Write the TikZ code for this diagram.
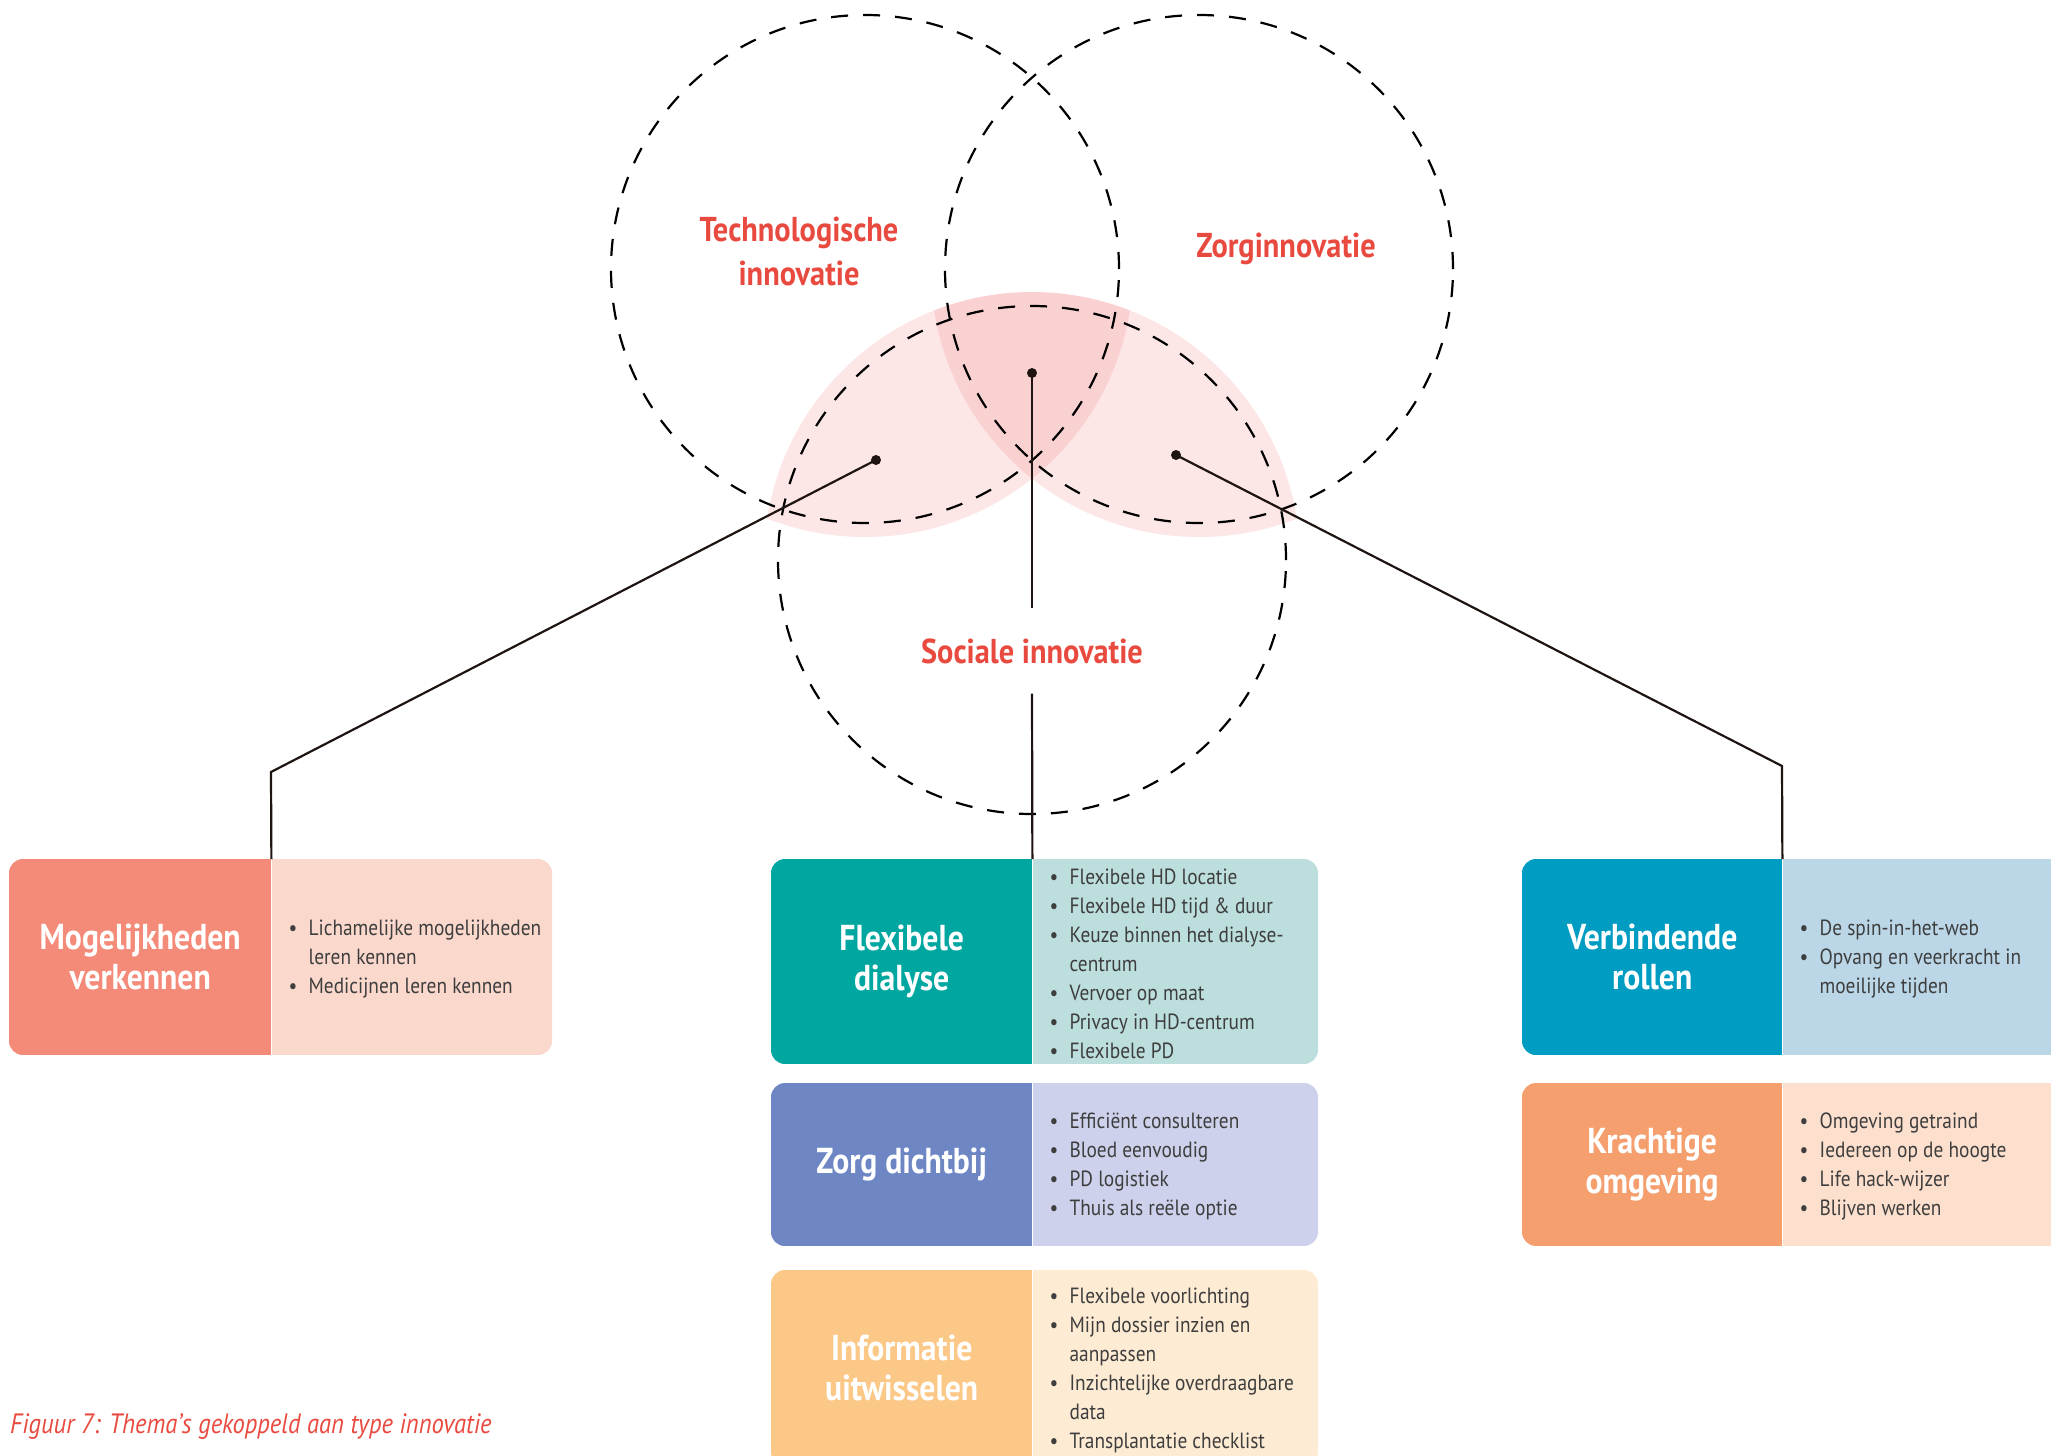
\documentclass[tikz,border=0pt]{standalone}
\usepackage{fontspec}
\setmainfont{PT Sans}[FakeStretch=0.88]
\definecolor{lblred}{RGB}{233,74,63}
\definecolor{txtgray}{RGB}{62,62,62}
\definecolor{linec}{RGB}{30,20,18}
\definecolor{petalc}{RGB}{240,128,128}
\definecolor{mogD}{RGB}{244,138,120}\definecolor{mogL}{RGB}{251,216,204}
\definecolor{flexD}{RGB}{0,166,160}\definecolor{flexL}{RGB}{188,222,221}
\definecolor{zorgD}{RGB}{110,135,196}\definecolor{zorgL}{RGB}{205,209,235}
\definecolor{infoD}{RGB}{252,200,135}\definecolor{infoL}{RGB}{254,235,211}
\definecolor{verbD}{RGB}{0,156,194}\definecolor{verbL}{RGB}{187,215,231}
\definecolor{krD}{RGB}{245,159,111}\definecolor{krL}{RGB}{252,223,204}
\newcommand\bul{\makebox[20pt][l]{\textbullet}}
\newcommand\ind{\hspace*{20pt}}
\begin{document}
\begin{tikzpicture}[x=1pt,y=-1pt,
  venn/.style={circle, draw=black, line width=2.2pt, dash pattern=on 17pt off 15pt, minimum size=508pt, inner sep=0pt},
  petal/.style={fill=petalc, fill opacity=0.2},
  lbl/.style={font=\bfseries\fontsize{34.5}{44}\selectfont, text=lblred, align=center, inner sep=0pt},
  conn/.style={draw=linec, line width=2.2pt},
  dotc/.style={fill=linec},
  headbox/.style={font=\bfseries\fontsize{36}{40}\selectfont, text=white, align=center, inner sep=0pt, anchor=north west},
  bodyfill/.style={inner sep=0pt, anchor=north west},
  bodytxt/.style={font=\fontsize{22}{29}\selectfont, text=txtgray, align=left, inner sep=0pt, anchor=west},
  corner/.style={rounded corners=14pt}
]
\useasboundingbox (0,0) rectangle (2051,1456);
\clip (0,0) rectangle (2051,1456);

% petals
\coordinate (cT) at (865,269);
\coordinate (cZ) at (1199,269);
\coordinate (cS) at (1032,560);
\begin{scope}
  \clip (cS) circle[radius=268pt];
  \fill[petal] (cT) circle[radius=268pt];
  \fill[petal] (cZ) circle[radius=268pt];
\end{scope}

% dashed circles
\node[venn] (techC) at (cT) {};
\node[venn] (zorgC) at (cZ) {};
\node[venn] (socC) at (cS) {};

% labels
\node[lbl] (techL) at (799,251) {Technologische\\innovatie};
\node[lbl] (zorgL) at (1286,249) {Zorginnovatie};
\node[lbl, minimum height=85pt] (socL) at (1032,651) {Sociale innovatie};

% ---- boxes ----
% Mogelijkheden verkennen
\begin{scope}
  \clip[corner] (9,859) rectangle (552,1055);
  \node[headbox, fill=mogD, minimum width=262pt, minimum height=196pt] (mogH) at (9,859) {Mogelijkheden\\verkennen};
  \node[bodyfill, fill=mogL, minimum width=300pt, minimum height=196pt] (mogB) at (mogH.north east) {};
\end{scope}
\node[bodytxt] (mogT) at ([xshift=17pt,yshift=-2pt]mogH.east) {\bul Lichamelijke mogelijkheden\\\ind leren kennen\\\bul Medicijnen leren kennen};

% Flexibele dialyse
\begin{scope}
  \clip[corner] (771,859) rectangle (1318,1064);
  \node[headbox, fill=flexD, minimum width=261pt, minimum height=205pt] (flexH) at (771,859) {Flexibele\\dialyse};
  \node[bodyfill, fill=flexL, minimum width=300pt, minimum height=205pt] (flexB) at (flexH.north east) {};
\end{scope}
\node[bodytxt] (flexT) at ([xshift=17pt,yshift=-2pt]flexH.east) {\bul Flexibele HD locatie\\\bul Flexibele HD tijd \& duur\\\bul Keuze binnen het dialyse-\\\ind centrum\\\bul Vervoer op maat\\\bul Privacy in HD-centrum\\\bul Flexibele PD};

% Zorg dichtbij
\begin{scope}
  \clip[corner] (771,1083) rectangle (1318,1246);
  \node[headbox, fill=zorgD, minimum width=261pt, minimum height=163pt] (zorgH) at (771,1083) {Zorg dichtbij};
  \node[bodyfill, fill=zorgL, minimum width=300pt, minimum height=163pt] (zorgB) at (zorgH.north east) {};
\end{scope}
\node[bodytxt] (zorgT) at ([xshift=17pt,yshift=-2pt]zorgH.east) {\bul Efficiënt consulteren\\\bul Bloed eenvoudig\\\bul PD logistiek\\\bul Thuis als reële optie};

% Informatie uitwisselen
\begin{scope}
  \clip[corner] (771,1270) rectangle (1318,1466);
  \node[headbox, fill=infoD, minimum width=261pt, minimum height=196pt] (infoH) at (771,1270) {Informatie\\uitwisselen};
  \node[bodyfill, fill=infoL, minimum width=300pt, minimum height=196pt] (infoB) at (infoH.north east) {};
\end{scope}
\node[bodytxt] (infoT) at ([xshift=17pt,yshift=-2pt]infoH.east) {\bul Flexibele voorlichting\\\bul Mijn dossier inzien en\\\ind aanpassen\\\bul Inzichtelijke overdraagbare\\\ind data\\\bul Transplantatie checklist};

% Verbindende rollen
\begin{scope}
  \clip[corner] (1522,859) rectangle (2080,1055);
  \node[headbox, fill=verbD, minimum width=260pt, minimum height=196pt] (verbH) at (1522,859) {Verbindende\\rollen};
  \node[bodyfill, fill=verbL, minimum width=320pt, minimum height=196pt] (verbB) at (verbH.north east) {};
\end{scope}
\node[bodytxt] (verbT) at ([xshift=17pt,yshift=-2pt]verbH.east) {\bul De spin-in-het-web\\\bul Opvang en veerkracht in\\\ind moeilijke tijden};

% Krachtige omgeving
\begin{scope}
  \clip[corner] (1522,1083) rectangle (2080,1246);
  \node[headbox, fill=krD, minimum width=260pt, minimum height=163pt] (krH) at (1522,1083) {Krachtige\\omgeving};
  \node[bodyfill, fill=krL, minimum width=320pt, minimum height=163pt] (krB) at (krH.north east) {};
\end{scope}
\node[bodytxt] (krT) at ([xshift=17pt,yshift=-2pt]krH.east) {\bul Omgeving getraind\\\bul Iedereen op de hoogte\\\bul Life hack-wijzer\\\bul Blijven werken};

% connectors
\coordinate (dotL) at (876,460);
\coordinate (dotM) at (1032,373);
\coordinate (dotR) at (1176,455);
\coordinate (bendL) at (271,772);
\coordinate (bendR) at (1782,766);
\draw[conn] (dotL) -- (bendL) -- (mogH.north east);
\draw[conn] (dotM) -- (socL.north);
\draw[conn] (socL.south) -- (flexH.north east);
\draw[conn] (dotR) -- (bendR) -- (verbH.north east);
\fill[dotc] (dotL) circle[radius=5pt];
\fill[dotc] (dotM) circle[radius=5pt];
\fill[dotc] (dotR) circle[radius=5pt];

% caption
\node[font=\itshape\fontsize{28}{30}\selectfont, text=lblred, anchor=base west, inner sep=0pt] (cap) at (10,1433) {Figuur 7: Thema’s gekoppeld aan type innovatie};
\end{tikzpicture}
\end{document}
